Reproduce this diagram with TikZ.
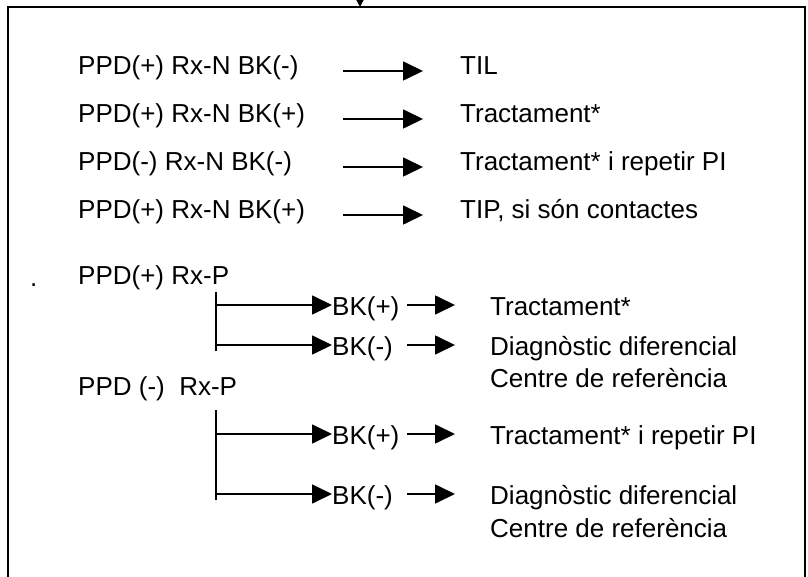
\documentclass[tikz,border=0pt]{standalone}
\usepackage{fontspec}
\setmainfont{Liberation Sans}
\usetikzlibrary{arrows.meta}

\begin{document}
\begin{tikzpicture}[x=1pt,y=-1pt,
  txt/.style={font=\fontsize{26}{31}\selectfont, anchor=base west, inner sep=0pt},
  conn/.style={line width=1.7pt, -{Triangle[length=20pt,width=19pt]}},
  feed/.style={line width=1.7pt, -{Triangle[length=9pt,width=9pt]}},
  bracket/.style={line width=1.7pt},
  frame/.style={line width=2pt}]
\useasboundingbox (0,0) rectangle (808,577);

% open frame, running off the bottom edge
\draw[frame] (8,590) -- (8,7) -- (805,7) -- (805,590);

% incoming arrow at the top of the frame
\coordinate (src) at (360,-14);
\coordinate (boxtop) at (360,7);
\draw[feed] (src) -- (boxtop);

% simple rows
\node[txt] (l1) at (78,75)  {PPD(+) Rx-N BK(-)};
\node[txt] (r1) at (460,75) {TIL};
\node[txt] (l2) at (78,123) {PPD(+) Rx-N BK(+)};
\node[txt] (r2) at (460,123) {Tractament*};
\node[txt] (l3) at (78,171) {PPD(-) Rx-N BK(-)};
\node[txt] (r3) at (460,171) {Tractament* i repetir PI};
\node[txt] (l4) at (78,219) {PPD(+) Rx-N BK(+)};
\node[txt] (r4) at (460,219) {TIP, si són contactes};

\foreach \i/\y in {1/71,2/119,3/167,4/215}{
  \coordinate (s\i) at (343,\y);
  \coordinate (e\i) at (423,\y);
  \draw[conn] (s\i) -- (e\i);
}

% PPD(+) Rx-P branch
\node[txt] (dot) at (30,287) {.};
\node[txt] (p1) at (78,284) {PPD(+) Rx-P};
\coordinate (b1top) at (216,292);
\coordinate (b1bot) at (216,351);
\draw[bracket] (b1top) -- (b1bot);

\node[txt] (bk1) at (332,315) {BK(+)};
\node[txt] (t1) at (490,315) {Tractament*};
\node[txt] (bk2) at (332,355) {BK(-)};
\node[txt] (t2) at (490,355) {Diagnòstic diferencial};
\node[txt] (t2b) at (490,387) {Centre de referència};

\coordinate (h1) at (216,305);
\coordinate (h2) at (216,345);
\draw[conn] (h1) -- (h1 -| bk1.west);
\draw[conn] (h2) -- (h2 -| bk2.west);
\coordinate (m1s) at (407,305); \coordinate (m1e) at (455,305);
\coordinate (m2s) at (407,345); \coordinate (m2e) at (455,345);
\draw[conn] (m1s) -- (m1e);
\draw[conn] (m2s) -- (m2e);

% PPD (-) Rx-P branch
\node[txt] (p2) at (78,395) {PPD (-)\ \ Rx-P};
\coordinate (b2top) at (216,410);
\coordinate (b2bot) at (216,500);
\draw[bracket] (b2top) -- (b2bot);

\node[txt] (bk3) at (332,444) {BK(+)};
\node[txt] (t3) at (490,444) {Tractament* i repetir PI};
\node[txt] (bk4) at (332,504) {BK(-)};
\node[txt] (t4) at (490,504) {Diagnòstic diferencial};
\node[txt] (t4b) at (490,537) {Centre de referència};

\coordinate (h3) at (216,434);
\coordinate (h4) at (216,494);
\draw[conn] (h3) -- (h3 -| bk3.west);
\draw[conn] (h4) -- (h4 -| bk4.west);
\coordinate (m3s) at (407,434); \coordinate (m3e) at (455,434);
\coordinate (m4s) at (407,494); \coordinate (m4e) at (455,494);
\draw[conn] (m3s) -- (m3e);
\draw[conn] (m4s) -- (m4e);
\end{tikzpicture}
\end{document}
